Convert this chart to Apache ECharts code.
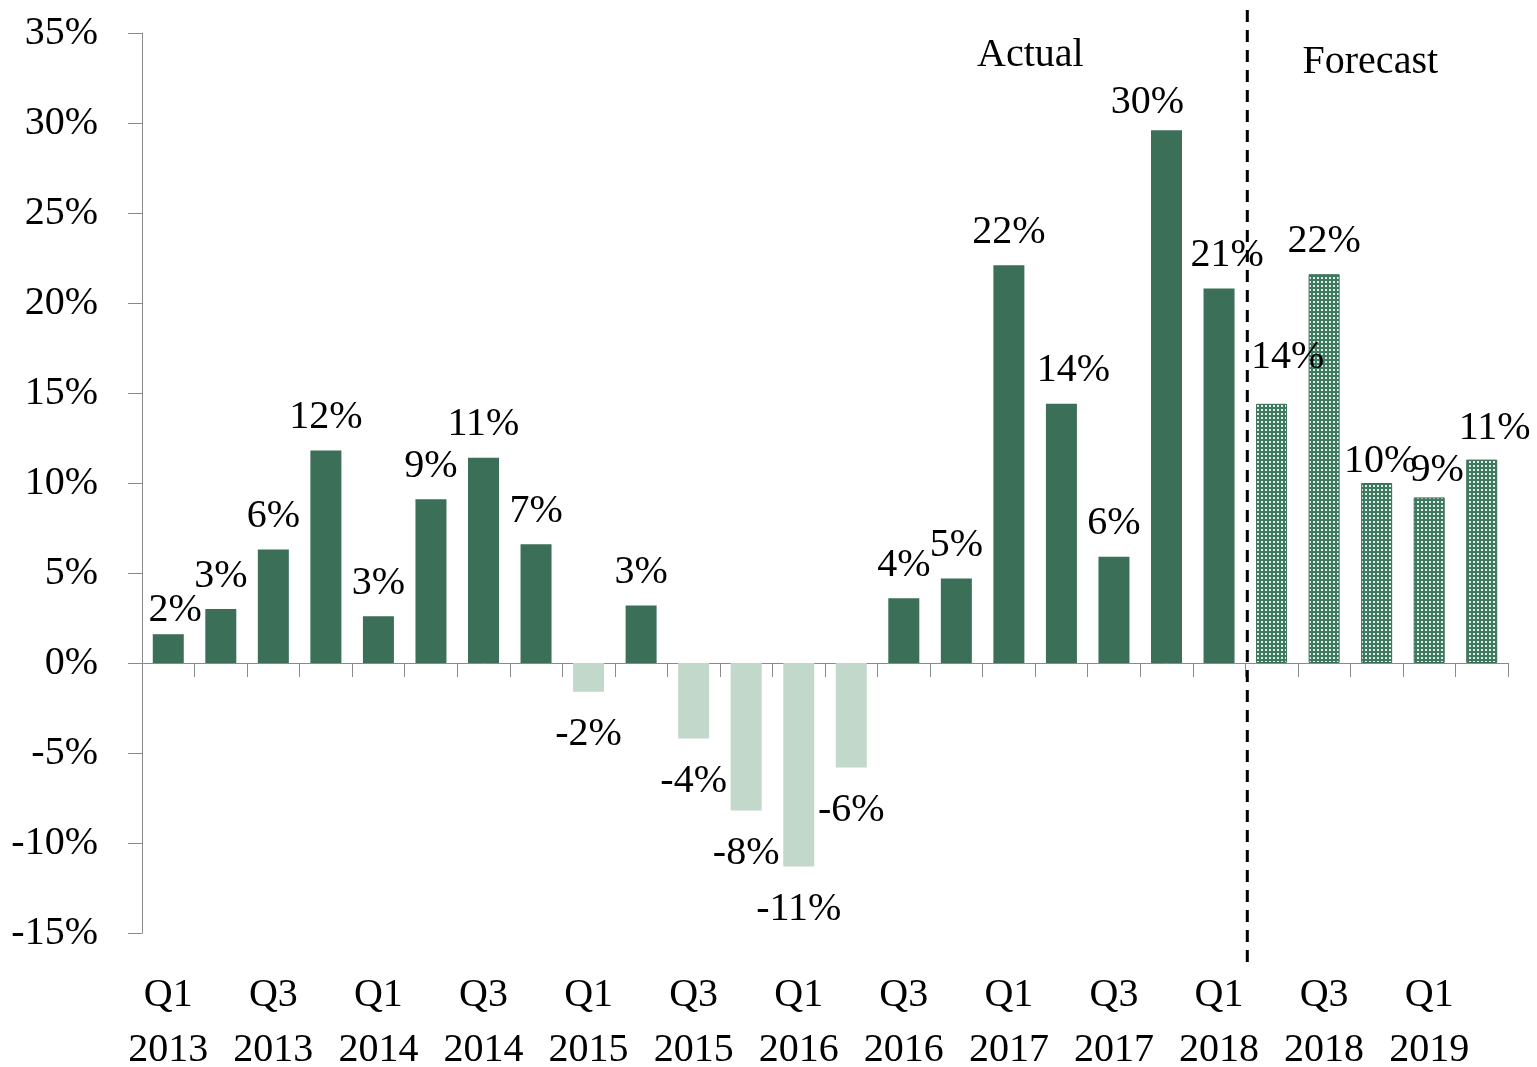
<!DOCTYPE html>
<html>
<head>
<meta charset="utf-8">
<script src="https://cdn.jsdelivr.net/npm/echarts@6/dist/echarts.min.js"></script>
<style>
  html, body { margin: 0; padding: 0; background: #fff; }
  #chart { width: 1537px; height: 1067px; }
</style>
</head>
<body>
<div id="chart"></div>
<script>
// quarters, Q1 2013 .. Q2 2019
var categories = [
  'Q1\n2013', 'Q2\n2013', 'Q3\n2013', 'Q4\n2013',
  'Q1\n2014', 'Q2\n2014', 'Q3\n2014', 'Q4\n2014',
  'Q1\n2015', 'Q2\n2015', 'Q3\n2015', 'Q4\n2015',
  'Q1\n2016', 'Q2\n2016', 'Q3\n2016', 'Q4\n2016',
  'Q1\n2017', 'Q2\n2017', 'Q3\n2017', 'Q4\n2017',
  'Q1\n2018', 'Q2\n2018', 'Q3\n2018', 'Q4\n2018',
  'Q1\n2019', 'Q2\n2019'
]
// growth in %, actual through Q1 2018
var actualValues = [1.6, 3.0, 6.3, 11.8, 2.6, 9.1, 11.4, 6.6, -1.6, 3.2, -4.2, -8.2, -11.3, -5.8, 3.6, 4.7, 22.1, 14.4, 5.9, 29.6, 20.8]
// forecast Q2 2018 .. Q2 2019
var forecastValues = [14.4, 21.6, 10.0, 9.2, 11.3]
var yTicks = { min: -15, max: 35, step: 5 }

var FONT = 'Liberation Serif'
var DARK = '#3b6f58'
var LIGHT = '#c2d8cb'

// a few labels are nudged off the default spot, like in the source
var labelShift = {
  0: [7, 9], 17: [12, 0], 19: [-19, 5], 20: [8, 0],
  21: [16, -13], 23: [4, 11], 24: [8, 6], 25: [13, 2]
}

function dotPattern() {
  var c = document.createElement('canvas')
  c.width = 4
  c.height = 4
  var ctx = c.getContext('2d')
  ctx.fillStyle = '#3e7a5f'
  ctx.fillRect(0, 0, 4, 4)
  ctx.fillStyle = '#e2ede6'
  ctx.fillRect(1, 1, 2, 2)
  return c
}

function pct(v) {
  return Math.round(v) + '%'
}

function makeItem(v, i) {
  if (v == null) return null
  var shift = labelShift[i] || [0, 0]
  var neg = v < 0
  return {
    value: v,
    itemStyle: { color: neg ? LIGHT : DARK },
    label: {
      position: neg ? 'bottom' : 'top',
      distance: neg ? 23 : 13,
      offset: shift
    }
  }
}

var actualData = categories.map(function (c, i) {
  return makeItem(i < actualValues.length ? actualValues[i] : null, i)
})
var forecastData = categories.map(function (c, i) {
  var j = i - actualValues.length
  if (j < 0) return null
  var item = makeItem(forecastValues[j], i)
  item.itemStyle = {
    color: { image: dotPattern(), repeat: 'repeat' },
    borderColor: DARK,
    borderWidth: 1
  }
  return item
})

var barLabel = {
  show: true,
  fontFamily: FONT,
  fontSize: 40,
  color: '#000',
  formatter: function (p) { return pct(p.value) }
}

var chart = echarts.init(document.getElementById('chart'))
chart.setOption({
  animation: false,
  backgroundColor: '#fff',
  grid: { left: 142, right: 29, top: 33, bottom: 134, outerBoundsMode: 'none', containLabel: false },
  xAxis: [
    {
      type: 'category',
      data: categories,
      axisLine: { onZero: true, lineStyle: { color: '#8a8a8a', width: 1 } },
      axisTick: { show: true, length: 14, lineStyle: { color: '#8a8a8a' } },
      axisLabel: { show: false }
    },
    {
      type: 'category',
      data: categories,
      position: 'bottom',
      axisLine: { show: false, onZero: false },
      axisTick: { show: false },
      axisLabel: {
        interval: 1,
        margin: 35,
        fontFamily: FONT,
        fontSize: 40,
        lineHeight: 55,
        color: '#000'
      }
    }
  ],
  yAxis: {
    type: 'value',
    min: yTicks.min,
    max: yTicks.max,
    interval: yTicks.step,
    splitLine: { show: false },
    axisLine: { show: true, lineStyle: { color: '#8a8a8a', width: 1 } },
    axisTick: { show: true, length: 14, lineStyle: { color: '#8a8a8a' } },
    axisLabel: {
      margin: 44,
      fontFamily: FONT,
      fontSize: 40,
      color: '#000',
      formatter: '{value}%'
    }
  },
  series: [
    {
      name: 'Actual',
      type: 'bar',
      barWidth: 31,
      barGap: '-100%',
      data: actualData,
      label: barLabel
    },
    {
      name: 'Forecast',
      type: 'bar',
      barWidth: 31,
      data: forecastData,
      label: barLabel
    }
  ]
})

// divider between last actual and first forecast quarter
var n = actualValues.length
var xa = chart.convertToPixel({ xAxisIndex: 0 }, n - 1)
var xb = chart.convertToPixel({ xAxisIndex: 0 }, n)
var divX = (xa + xb) / 2 + 2

chart.setOption({
  graphic: [
    {
      type: 'line',
      shape: { x1: divX, y1: 10, x2: divX, y2: 966 },
      style: { stroke: '#000', lineWidth: 3, lineDash: [12, 8] },
      z: 10
    },
    {
      type: 'text',
      x: divX - 217,
      y: 55,
      style: { text: 'Actual', font: '40px "' + FONT + '"', fill: '#000', align: 'center', verticalAlign: 'middle' }
    },
    {
      type: 'text',
      x: divX + 123,
      y: 62,
      style: { text: 'Forecast', font: '40px "' + FONT + '"', fill: '#000', align: 'center', verticalAlign: 'middle' }
    }
  ]
})
</script>
</body>
</html>
